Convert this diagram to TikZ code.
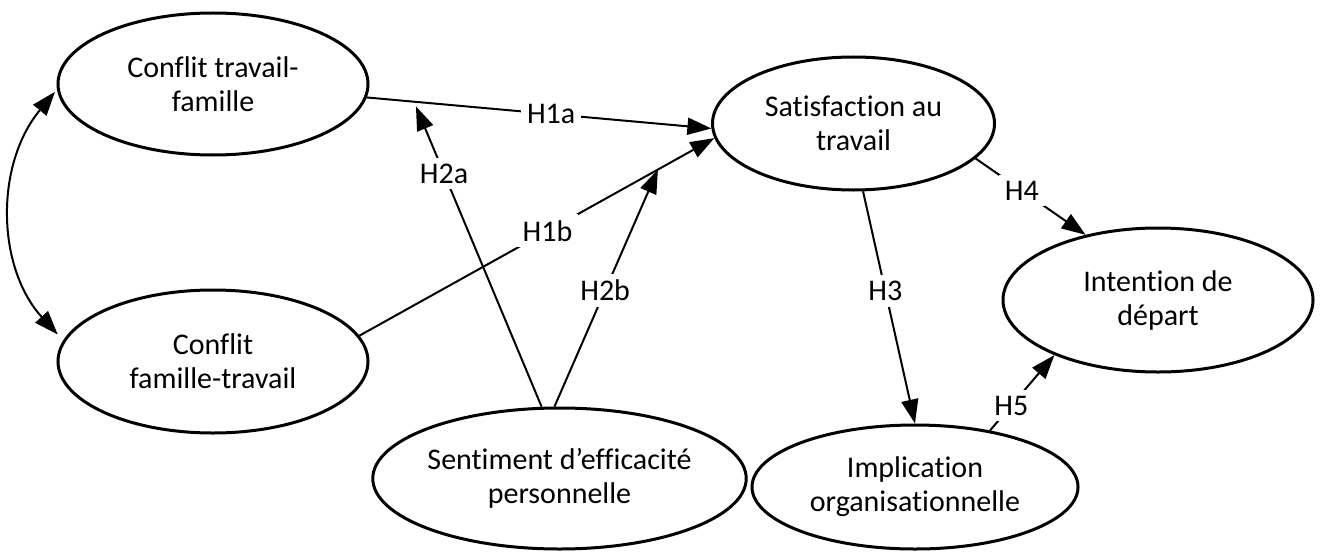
\documentclass[tikz,border=0pt]{standalone}
\usepackage{fontspec}
\setmainfont{Carlito}[Ligatures=NoCommon]
\usetikzlibrary{arrows.meta,positioning,shapes.geometric,calc}

\begin{document}
\begin{tikzpicture}[x=0.5pt,y=-0.5pt,
    v/.style={draw,ellipse,line width=1.5pt,inner sep=0pt,align=center,
              font=\fontsize{15}{17}\selectfont},
    a/.style={-{Triangle[length=12pt,width=8.5pt]},line width=1pt},
    l/.style={fill=white,inner sep=3pt,font=\fontsize{15}{17}\selectfont}
  ]
  \useasboundingbox (0,0) rectangle (1320,551);

  \node[v,minimum width=155pt,minimum height=71pt] (ctf) at (213,84) {Conflit travail-\\famille};
  \node[v,minimum width=155pt,minimum height=71.5pt] (cft) at (213,361.5) {Conflit\\famille-travail};
  \node[v,minimum width=141pt,minimum height=66.5pt] (sat) at (853.5,123.5) {Satisfaction au\\travail};
  \node[v,minimum width=155pt,minimum height=72pt] (int) at (1158,300) {Intention de\\départ};
  \node[v,minimum width=163pt,minimum height=62pt] (imp) at (915,487) {Implication\\organisationnelle};
  \node[v,minimum width=155pt,minimum height=70.5pt] (sef) at (559.5,478.5) {Sentiment d’efficacité\\personnelle};

  % effets directs
  \draw[a] (ctf.-5) -- node[l,pos=.535] {H1a} (sat.182);
  \draw[a] (cft.10) -- node[l,pos=.53] {H1b} (sat.186);

  % moderation
  \path (ctf.-5) -- (sat.182) coordinate[pos=.137] (p2a);
  \path (cft.10) -- (sat.186) coordinate[pos=.841] (p2b);
  \draw[a,shorten >=2.5pt] (sef.104) -- node[l,pos=.765] {H2a} (p2a);
  \draw[a] (sef.94) -- node[l,pos=.49] {H2b} (p2b);

  \draw[a] (sat.-82) -- node[l,pos=.43] {H3} (imp.north);
  \draw[a] (sat.-16) -- node[l,pos=.42] {H4} (int.138);
  \draw[a] (imp.37) -- node[l,pos=.33] {H5} (int.208);

  % covariance
  \draw[{Triangle[length=12pt,width=8.5pt]}-{Triangle[length=12pt,width=8.5pt]},line width=1pt,
        shorten <=1.5pt,shorten >=4pt] (ctf.182) to[bend right=41] (cft.172);
\end{tikzpicture}
\end{document}
